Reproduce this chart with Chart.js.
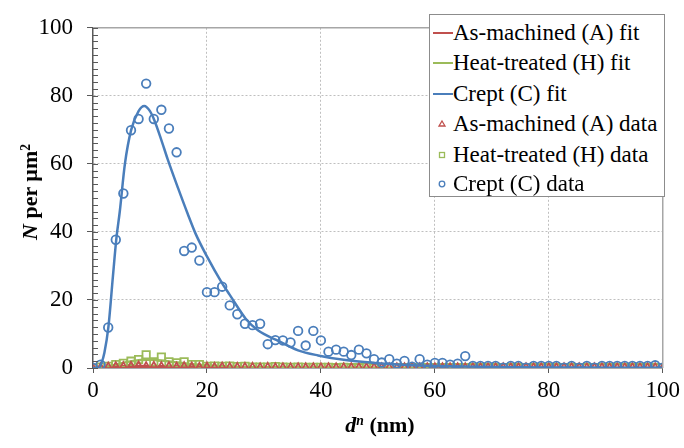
<!DOCTYPE html>
<html>
<head>
<meta charset="utf-8">
<script src="https://cdn.jsdelivr.net/npm/chart.js@4.4.1/dist/chart.umd.min.js"></script>
<style>
  html, body { margin: 0; padding: 0; background: #fff; }
  #wrap { position: relative; width: 684px; height: 448px; font-family: "Liberation Serif", "Times New Roman", serif; color: #000; }
  #chart { position: absolute; left: 0; top: 0; }
  .ytitle { position: absolute; left: 30px; top: 192px; transform: translate(-50%, -50%) rotate(-90deg); font-size: 22px; font-weight: bold; white-space: nowrap; }
  .xtitle { position: absolute; left: 380px; top: 425px; transform: translate(-50%, -50%); font-size: 22px; font-weight: bold; white-space: nowrap; }
  sup { font-size: 62%; vertical-align: 0.55em; line-height: 0; }
  #legend { position: absolute; left: 429px; top: 14px; width: 236px; height: 183px; border: 1px solid #8c8c8c; background: #fff; box-sizing: border-box; }
  .row { position: absolute; left: 0; height: 30px; line-height: 30px; font-size: 23px; white-space: nowrap; }
  .row span.t { position: absolute; left: 23px; top: 0; }
  .sw { position: absolute; top: 0; left: 0; width: 24px; height: 30px; }
</style>
</head>
<body>
<div id="wrap">
  <canvas id="chart" width="684" height="448"></canvas>
  <div class="ytitle"><i>N</i> per µm<sup>2</sup></div>
  <div class="xtitle"><i>d</i><sup><i>n</i></sup> (nm)</div>
  <div id="legend"></div>
</div>
<script>
const X_TICKS = [0, 20, 40, 60, 80, 100];
const Y_TICKS = [0, 20, 40, 60, 80, 100];

const dataX = [0, 1.33, 2.67, 4, 5.33, 6.67, 8, 9.33, 10.67, 12, 13.33, 14.67, 16, 17.33, 18.67, 20,
  21.33, 22.67, 24, 25.33, 26.67, 28, 29.33, 30.67, 32, 33.33, 34.67, 36, 37.33, 38.67, 40,
  41.33, 42.67, 44, 45.33, 46.67, 48, 49.33, 50.67, 52, 53.33, 54.67, 56, 57.33, 58.67, 60,
  61.33, 62.67, 64, 65.33, 66.67, 68, 69.33, 70.67, 72, 73.33, 74.67, 76, 77.33, 78.67, 80,
  81.33, 82.67, 84, 85.33, 86.67, 88, 89.33, 90.67, 92, 93.33, 94.67, 96, 97.33, 98.67, 100];

const creptData = [0, 1.0, 11.9, 37.7, 51.3, 69.9, 73.2, 83.6, 73.2, 75.9, 70.4, 63.4, 34.4, 35.4, 31.6, 22.3,
  22.3, 23.9, 18.4, 15.8, 13.0, 12.6, 13.0, 7.0, 8.2, 8.1, 7.5, 10.9, 6.6, 10.9, 8.1,
  4.8, 5.4, 4.8, 3.8, 5.4, 4.3, 2.6, 1.6, 2.6, 1.3, 2.1, 0.4, 2.6, 1.0, 1.5,
  1.5, 1.0, 1.3, 3.5, 0.6, 0.6, 0.6, 0.6, 0.1, 0.6, 0.6, 0.1, 0.6, 0.6, 0.6,
  0.6, 0.1, 0.6, 0.1, 0.6, 0.1, 0.6, 0.6, 0.6, 0.6, 0.6, 0.6, 0.6, 0.8, 0.1];

const heatData = [0, 0.3, 0.5, 1.0, 1.4, 2.0, 2.5, 3.9, 1.8, 3.2, 1.8, 1.5, 1.8, 1.0, 1.0, 0.5,
  0.6, 0.5, 0.6, 0.4, 0.5, 0.3, 0.3, 0.3, 0.4, 0.3, 0.2, 0.3, 0.2, 0.2, 0.2,
  0.2, 0.1, 0.2, 0.1, 0.1, 0.2, 0.1, 0.1, 0.1, 0.1, 0.1, 0.1, 0.1, 0.1, 0.1,
  0.1, 0.1, 0.1, 0.1, 0.1, 0.1, 0.1, 0.1, 0.1, 0.1, 0.1, 0.1, 0.1, 0.1, 0.1,
  0.1, 0.1, 0.1, 0.1, 0.1, 0.1, 0.1, 0.1, 0.1, 0.1, 0.1, 0.1, 0.1, 0.1, 0.1];

const machData = [0, 0.3, 0.5, 0.6, 0.6, 0.7, 0.8, 0.6, 0.7, 0.6, 0.6, 0.5, 0.6, 0.5, 0.4, 0.5,
  0.4, 0.5, 0.4, 0.4, 0.4, 0.4, 0.3, 0.4, 0.3, 0.3, 0.3, 0.3, 0.3, 0.3, 0.3,
  0.3, 0.3, 0.3, 0.3, 0.3, 0.3, 0.3, 0.3, 0.3, 0.3, 0.3, 0.3, 0.3, 0.3, 0.3,
  0.3, 0.3, 0.3, 0.3, 0.3, 0.3, 0.3, 0.3, 0.3, 0.3, 0.3, 0.3, 0.3, 0.3, 0.3,
  0.3, 0.3, 0.3, 0.3, 0.3, 0.3, 0.3, 0.3, 0.3, 0.3, 0.3, 0.3, 0.3, 0.3, 0.2];

// fitted curves
const creptFitX = [0, 1, 1.5, 2, 2.7, 3.5, 4.1, 4.7, 5.6, 6.7, 8, 9, 10, 10.8, 12, 13.1, 14.9, 16.6, 18, 20,
  22.7, 24, 26.8, 29, 32.6, 36, 39.5, 44, 49.4, 55, 60, 70, 80, 90, 100];
const creptFitY = [0, 0, 1.5, 4.5, 12, 27, 38, 46, 60, 70, 75.5, 77, 75.5, 72.7, 67, 61.4, 53, 45.4, 39.5, 32.8,
  24.8, 21.5, 14.5, 11, 7.9, 5.2, 3.7, 2.4, 1.5, 0.9, 0.6, 0.3, 0.15, 0.1, 0.05];

const heatFitX = [0, 2, 4, 6, 8, 10, 12, 14, 16, 18, 20, 25, 30, 40, 60, 100];
const heatFitY = [0, 0.2, 1.0, 1.8, 2.3, 2.4, 2.2, 1.8, 1.4, 1.0, 0.7, 0.35, 0.2, 0.08, 0.02, 0];

const machFitX = [0, 2, 5, 8, 12, 16, 20, 30, 40, 60, 100];
const machFitY = [0, 0.2, 0.5, 0.6, 0.55, 0.45, 0.35, 0.15, 0.07, 0.02, 0];

// ── colours / labels ─────────────────────────────────────────────
const RED   = "#c0504d";
const GREEN = "#9bbb59";
const BLUE  = "#4a7ebb";

const LEGEND = [
  { label: "As-machined (A) fit",   color: RED,   kind: "line" },
  { label: "Heat-treated (H) fit",  color: GREEN, kind: "line" },
  { label: "Crept (C) fit",         color: BLUE,  kind: "line" },
  { label: "As-machined (A) data",  color: RED,   kind: "tri" },
  { label: "Heat-treated (H) data", color: GREEN, kind: "sq" },
  { label: "Crept (C) data",        color: BLUE,  kind: "circ" },
];

const pts = (xs, ys) => xs.map((x, i) => ({ x, y: ys[i] }));

function fitSet(label, xs, ys, color, order) {
  return {
    label, data: pts(xs, ys), showLine: true, borderColor: color, borderWidth: 2.5,
    pointRadius: 0, cubicInterpolationMode: "monotone", fill: false, order,
  };
}
function dataSet(label, ys, color, style, radius, order) {
  return {
    label, data: pts(dataX, ys), showLine: false, pointStyle: style, pointRadius: radius,
    pointBorderColor: color, pointBackgroundColor: "rgba(0,0,0,0)", pointBorderWidth: 1.8, order,
  };
}

// frame + inside minor ticks on the y axis
const framePlugin = {
  id: "frame",
  afterDraw(chart) {
    const { ctx, chartArea: a, scales: { y } } = chart;
    ctx.save();
    ctx.strokeStyle = "#a6a6a6";
    ctx.lineWidth = 1.5;
    ctx.beginPath();
    ctx.moveTo(a.left, a.top); ctx.lineTo(a.right, a.top); ctx.lineTo(a.right, a.bottom);
    ctx.stroke();
    ctx.strokeStyle = "#595959";
    ctx.lineWidth = 1;
    for (let v = 0; v <= 100; v += 2) {
      const py = Math.round(y.getPixelForValue(v)) + 0.5;
      ctx.beginPath(); ctx.moveTo(a.left, py); ctx.lineTo(a.left + 5, py); ctx.stroke();
    }
    ctx.restore();
  },
};

const tickFont = { family: "Liberation Serif", size: 23 };

new Chart(document.getElementById("chart"), {
  type: "scatter",
  data: {
    datasets: [
      fitSet("As-machined (A) fit", machFitX, machFitY, RED, 5),
      fitSet("Heat-treated (H) fit", heatFitX, heatFitY, GREEN, 4),
      fitSet("Crept (C) fit", creptFitX, creptFitY, BLUE, 1),
      dataSet("As-machined (A) data", machData, RED, "triangle", 3.8, 2),
      dataSet("Heat-treated (H) data", heatData, GREEN, "rect", 5.2, 3),
      dataSet("Crept (C) data", creptData, BLUE, "circle", 4.3, 0),
    ],
  },
  options: {
    responsive: false,
    devicePixelRatio: 1,
    animation: false,
    layout: { padding: { top: 13, right: 17, left: 0, bottom: 0 } },
    plugins: { legend: { display: false }, tooltip: { enabled: false } },
    scales: {
      x: {
        type: "linear", min: 0, max: 100,
        afterBuildTicks: s => { s.ticks = X_TICKS.map(v => ({ value: v })); },
        afterFit: s => { s.height = 80; },
        ticks: { font: tickFont, color: "#000", padding: 4, maxRotation: 0 },
        grid: {
          color: c => (c.tick.value === 0 || c.tick.value === 100) ? "rgba(0,0,0,0)" : "#bfbfbf",
          tickColor: "#595959", tickLength: 5, lineWidth: 1,
        },
        border: { color: "#595959", width: 1.5, dash: [2, 2] },
      },
      y: {
        type: "linear", min: 0, max: 100,
        afterBuildTicks: s => { s.ticks = Y_TICKS.map(v => ({ value: v })); },
        afterFit: s => { s.width = 93; },
        ticks: { font: tickFont, color: "#000", padding: 14 },
        grid: {
          color: c => (c.tick.value === 0 || c.tick.value === 100) ? "rgba(0,0,0,0)" : "#bfbfbf",
          tickColor: "#595959", tickLength: 6, lineWidth: 1,
        },
        border: { color: "#595959", width: 1.5, dash: [2, 2] },
      },
    },
  },
  plugins: [framePlugin],
});

// ── legend box (inside the plot, top right) ──────────────────────
function swatch(item) {
  const c = item.color;
  if (item.kind === "line") return `<svg class="sw" viewBox="0 0 24 30"><line x1="3" y1="15" x2="23" y2="15" stroke="${c}" stroke-width="2"/></svg>`;
  if (item.kind === "tri")  return `<svg class="sw" viewBox="0 0 24 30"><polygon points="12,12 15,17 9,17" fill="none" stroke="${c}" stroke-width="1.3"/></svg>`;
  if (item.kind === "sq")   return `<svg class="sw" viewBox="0 0 24 30"><rect x="9.5" y="12.5" width="5" height="5" fill="none" stroke="${c}" stroke-width="1.3"/></svg>`;
  return `<svg class="sw" viewBox="0 0 24 30"><circle cx="12" cy="15" r="2.8" fill="none" stroke="${c}" stroke-width="1.3"/></svg>`;
}
const ROW_CENTERS = [18, 48, 79, 109, 140, 169];
document.getElementById("legend").innerHTML = LEGEND.map((it, i) =>
  `<div class="row" style="top:${ROW_CENTERS[i] - 15}px">${swatch(it)}<span class="t">${it.label}</span></div>`
).join("");
</script>
</body>
</html>
